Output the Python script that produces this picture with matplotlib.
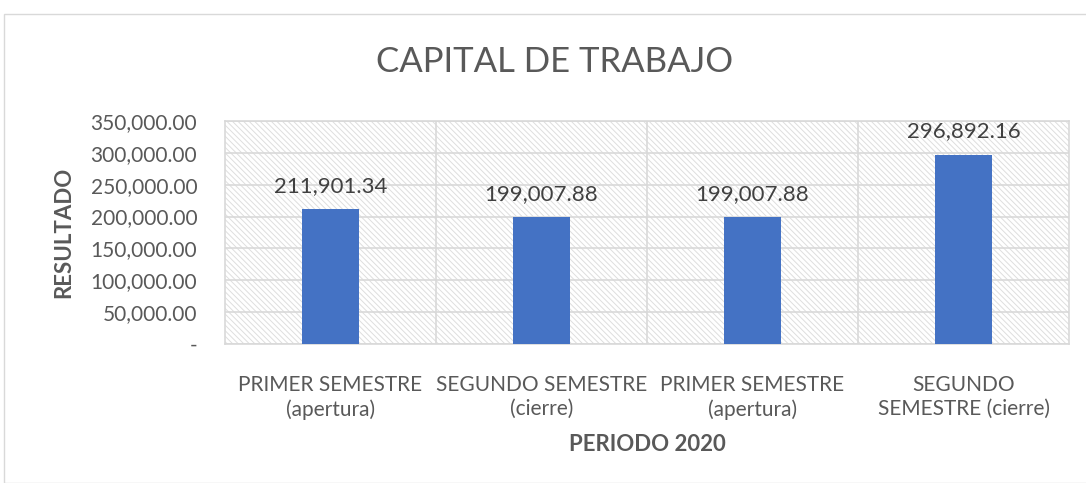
import matplotlib
matplotlib.use("Agg")
import matplotlib.pyplot as plt
from matplotlib.patches import Rectangle
from matplotlib.ticker import FuncFormatter, MultipleLocator

categories = ["PRIMER SEMESTRE\n(apertura)", "SEGUNDO SEMESTRE\n(cierre)",
              "PRIMER SEMESTRE\n(apertura)", "SEGUNDO\nSEMESTRE (cierre)"]
values = [211901.34, 199007.88, 199007.88, 296892.16]
value_labels = ["211,901.34", "199,007.88", "199,007.88", "296,892.16"]

plt.rcParams['font.family'] = ['Lato', 'DejaVu Sans']
plt.rcParams['hatch.linewidth'] = 0.7
plt.rcParams['hatch.color'] = '#dedede'

fig = plt.figure(figsize=(10.86, 4.83), dpi=100)
ax = fig.add_axes([225/1086, 1-344/483, (1069-225)/1086, (344-121)/483])

# outer chart border
fig.patches.append(Rectangle((4/1086, 0), 1 - 4/1086 + 0.01, 1 - 14/483,
                             transform=fig.transFigure, fill=False,
                             edgecolor='#d9d9d9', linewidth=1))

ax.set_xlim(-0.5, len(values) - 0.5)
ax.set_ylim(0, 350000)

# hatched background
ax.add_patch(Rectangle((0, 0), 1, 1, transform=ax.transAxes, facecolor='white',
                       edgecolor='#dedede', hatch='\\\\\\\\\\\\', linewidth=0, zorder=0))

ax.yaxis.set_major_locator(MultipleLocator(50000))
ax.yaxis.grid(True, color='#d9d9d9', linewidth=1.2, zorder=1)
for xb in [0.5, 1.5, 2.5]:
    ax.axvline(xb, color='#d9d9d9', linewidth=1.2, zorder=1)

x = list(range(len(values)))
ax.bar(x, values, width=0.27, color='#4472c4', zorder=3)
for xi, v, lab in zip(x, values, value_labels):
    ax.text(xi, v + 21000, lab, ha='center', va='bottom', fontsize=16, color='#404040', zorder=4)

ax.set_xticks(x)
ax.set_xticklabels(categories, fontsize=15, color='#595959', linespacing=1.3)
ax.yaxis.set_major_formatter(FuncFormatter(lambda v, p: '-' if v == 0 else f'{v:,.2f}'))
ax.tick_params(axis='y', labelsize=15, labelcolor='#595959', length=0, pad=20)
ax.tick_params(axis='x', length=0, pad=22)

for s in ax.spines.values():
    s.set_color('#d9d9d9')
    s.set_linewidth(1.2)

ax.set_ylabel('RESULTADO', fontsize=16, fontweight='bold', color='#595959', labelpad=12)
ax.set_xlabel('PERIODO 2020', fontsize=16, fontweight='bold', color='#595959', labelpad=10)

fig.text(555/1086, 1 - 62/483, 'CAPITAL DE TRABAJO', ha='center', va='center',
         fontsize=25, color='#595959')

fig.savefig('out.png', dpi=100)
